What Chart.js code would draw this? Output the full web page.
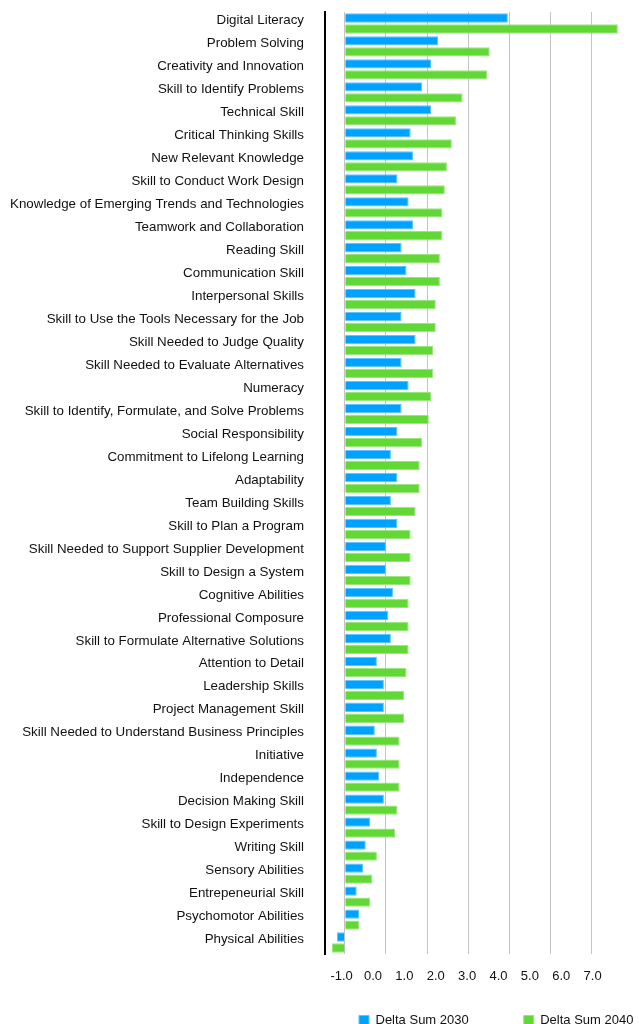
<!DOCTYPE html>
<html>
<head>
<meta charset="utf-8">
<title>Delta Sum 2030 / 2040</title>
<script src="https://cdn.jsdelivr.net/npm/chart.js@4.4.1/dist/chart.umd.min.js"></script>
<style>
  html, body { margin: 0; padding: 0; background: #fff; overflow: hidden; }
  #wrap { position: relative; width: 639px; height: 1024px; }
</style>
</head>
<body>
<div id="wrap"><canvas id="chart"></canvas></div>
<script>
const skills = [
  "Digital Literacy",
  "Problem Solving",
  "Creativity and Innovation",
  "Skill to Identify Problems",
  "Technical Skill",
  "Critical Thinking Skills",
  "New Relevant Knowledge",
  "Skill to Conduct Work Design",
  "Knowledge of Emerging Trends and Technologies",
  "Teamwork and Collaboration",
  "Reading Skill",
  "Communication Skill",
  "Interpersonal Skills",
  "Skill to Use the Tools Necessary for the Job",
  "Skill Needed to Judge Quality",
  "Skill Needed to Evaluate Alternatives",
  "Numeracy",
  "Skill to Identify, Formulate, and Solve Problems",
  "Social Responsibility",
  "Commitment to Lifelong Learning",
  "Adaptability",
  "Team Building Skills",
  "Skill to Plan a Program",
  "Skill Needed to Support Supplier Development",
  "Skill to Design a System",
  "Cognitive Abilities",
  "Professional Composure",
  "Skill to Formulate Alternative Solutions",
  "Attention to Detail",
  "Leadership Skills",
  "Project Management Skill",
  "Skill Needed to Understand Business Principles",
  "Initiative",
  "Independence",
  "Decision Making Skill",
  "Skill to Design Experiments",
  "Writing Skill",
  "Sensory Abilities",
  "Entrepeneurial Skill",
  "Psychomotor Abilities",
  "Physical Abilities"
];

const delta2030 = [
  3.96, 2.27, 2.10, 1.88, 2.10, 1.60, 1.66, 1.28, 1.55, 1.66,
  1.38, 1.50, 1.72, 1.38, 1.72, 1.38, 1.55, 1.38, 1.28, 1.12,
  1.28, 1.12, 1.28, 1.00, 1.00, 1.17, 1.06, 1.12, 0.78, 0.95,
  0.95, 0.73, 0.78, 0.84, 0.95, 0.62, 0.51, 0.45, 0.29, 0.35,
  -0.19
];

const delta2040 = [
  6.63, 3.52, 3.46, 2.86, 2.70, 2.60, 2.48, 2.43, 2.37, 2.37,
  2.31, 2.31, 2.21, 2.21, 2.15, 2.15, 2.10, 2.04, 1.88, 1.82,
  1.82, 1.72, 1.60, 1.60, 1.60, 1.55, 1.55, 1.55, 1.50, 1.44,
  1.44, 1.33, 1.33, 1.33, 1.28, 1.22, 0.78, 0.67, 0.62, 0.35,
  -0.31
];

// gridlines sit on these values
const gridValues = [0, 1, 2, 3, 4, 5, 6];
// the printed axis labels (they don't line up with the gridlines in the original)
const axisLabels = [-1, 0, 1, 2, 3, 4, 5, 6, 7];

const seriesNames = ["Delta Sum 2030", "Delta Sum 2040"];

const colors = {
  blue: "#00A2FF",
  blueEdge: "#5cc3ff",
  green: "#61D836",
  greenEdge: "#9be57e",
  grid: "#c4c4c4",
  text: "#111111"
};

Chart.defaults.font.family = "Helvetica, Arial, 'Liberation Sans', sans-serif";
Chart.defaults.font.size = 13;
Chart.defaults.color = colors.text;

// move the legend box to where the original puts it (partly cut off at the bottom)
const legendPlace = {
  id: "legendPlace",
  afterLayout(chart) {
    const lg = chart.legend;
    if (!lg) return;
    lg.left = 304;
    lg.right = 3000;
    lg.top = 959;
    lg.bottom = 1200;
  }
};

new Chart(document.getElementById("chart"), {
  type: "bar",
  data: {
    labels: skills,
    datasets: [
      {
        label: seriesNames[0],
        data: delta2030,
        backgroundColor: colors.blue,
        borderColor: colors.blueEdge,
        borderWidth: 1,
        categoryPercentage: 0.957,
        barPercentage: 0.845
      },
      {
        label: seriesNames[1],
        data: delta2040,
        backgroundColor: colors.green,
        borderColor: colors.greenEdge,
        borderWidth: 1,
        categoryPercentage: 0.957,
        barPercentage: 0.845
      }
    ]
  },
  options: {
    indexAxis: "y",
    responsive: true,
    maintainAspectRatio: false,
    animation: false,
    layout: { padding: { top: 12, right: 15, left: 0, bottom: 0 } },
    scales: {
      y: {
        type: "category",
        grid: { display: false, drawTicks: false },
        border: { display: true, color: "#000", width: 2 },
        ticks: {
          autoSkip: false,
          padding: 21,
          labelOffset: -3,
          color: colors.text,
          font: { size: 13.35 }
        },
        afterFit: (scale) => {
          scale.width = 325;
          scale.paddingTop = 0;
          scale.paddingBottom = 0;
        }
      },
      x: {
        type: "linear",
        position: "bottom",
        min: -0.48,
        max: 6.78,
        grid: { color: colors.grid, lineWidth: 1, drawTicks: false },
        border: { display: false },
        ticks: { display: false },
        afterBuildTicks: (scale) => {
          scale.ticks = gridValues.map((v) => ({ value: v }));
        },
        afterFit: (scale) => { scale.height = 0; }
      },
      xLabels: {
        type: "linear",
        position: "bottom",
        min: -1.53,
        max: 8.0,
        grid: { display: false, drawTicks: false },
        border: { display: false },
        ticks: {
          autoSkip: false,
          maxRotation: 0,
          padding: 15,
          color: colors.text,
          font: { size: 13 },
          callback: (v) => Number(v).toFixed(1)
        },
        afterBuildTicks: (scale) => {
          scale.ticks = axisLabels.map((v) => ({ value: v }));
        },
        afterFit: (scale) => { scale.height = 40; }
      }
    },
    plugins: {
      legend: {
        position: "bottom",
        align: "start",
        maxHeight: 30,
        labels: {
          boxWidth: 10,
          boxHeight: 10,
          padding: 55,
          color: colors.text,
          font: { size: 13 }
        }
      },
      tooltip: { enabled: false }
    }
  },
  plugins: [legendPlace]
});
</script>
</body>
</html>
